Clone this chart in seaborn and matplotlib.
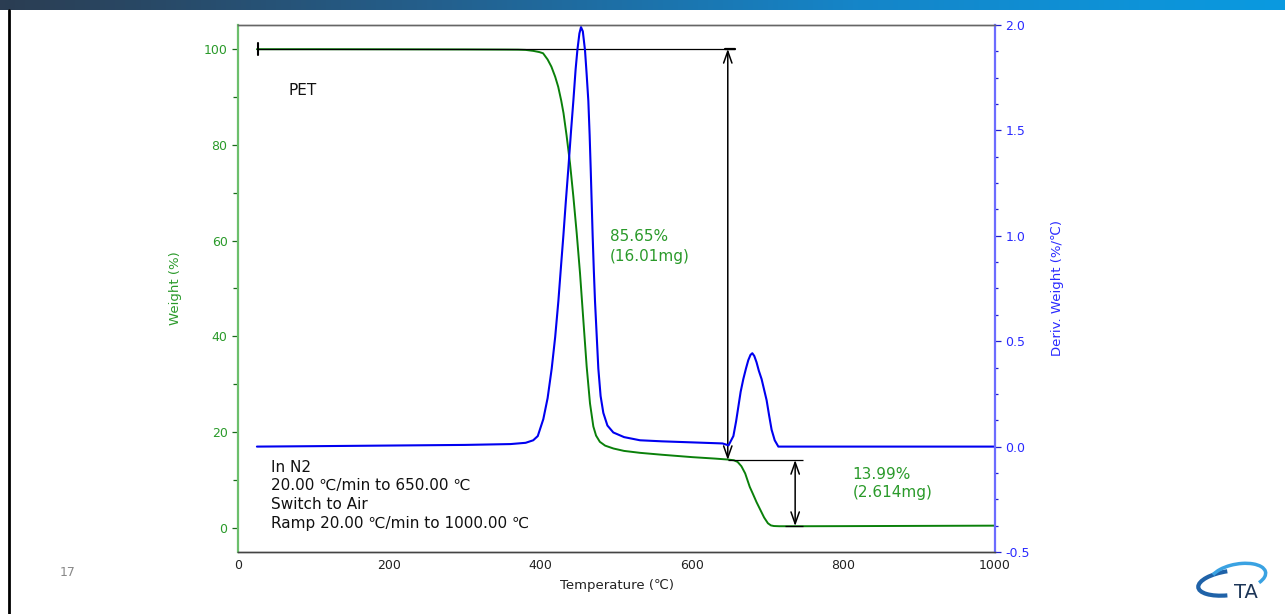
import numpy as np
import matplotlib
matplotlib.use("Agg")
import matplotlib.pyplot as plt
from matplotlib.patches import Arc
from matplotlib.lines import Line2D
from matplotlib.colors import LinearSegmentedColormap
from matplotlib.ticker import MultipleLocator, FormatStrFormatter
import seaborn as sns

# ---------------- data ----------------
temp_w = [25, 100, 200, 300, 350, 370, 380, 390, 398, 403, 409, 414, 419, 423, 427,
          430, 434, 438.6, 443, 447.4, 451.8, 456.2, 460.6, 465, 469.4, 473, 478, 485,
          496, 510, 531, 560, 600, 630, 647, 655, 660, 665, 670, 676, 680, 685, 690,
          695, 700, 704, 708, 715, 750, 800, 900, 1000]
weight = [99.95, 99.95, 99.93, 99.9, 99.87, 99.85, 99.8, 99.6, 99.35, 99.1, 97.8, 96.3,
          94.2, 92.1, 89.2, 86.6, 82.0, 76.1, 69.2, 61.6, 53.2, 43.4, 33.7, 26.0, 21.2,
          19.3, 18.0, 17.2, 16.6, 16.1, 15.7, 15.3, 14.8, 14.5, 14.3, 14.15, 13.8, 12.9,
          11.4, 8.6, 7.2, 5.4, 3.8, 2.2, 1.0, 0.55, 0.42, 0.38, 0.38, 0.4, 0.45, 0.5]

temp_d = [25, 100, 200, 300, 360, 380, 390, 396, 403.3, 409, 414.4, 419, 423.2, 427,
          429.8, 433, 436.4, 440, 443, 446, 448.3, 451, 453.1, 455.5, 458.4, 460.5,
          462.8, 464.5, 465.9, 467.2, 468.5, 470, 471.6, 473.8, 476, 479, 482.6, 488,
          495.8, 510, 531, 560, 600, 640, 648, 654.4, 658, 661, 664, 667.5, 671, 674.1,
          677, 679.4, 682, 685, 688, 691.7, 695, 698.3, 701.5, 704.9, 709, 713.8, 750,
          850, 1000]
deriv = [0.0, 0.002, 0.005, 0.008, 0.012, 0.018, 0.03, 0.05, 0.13, 0.23, 0.37, 0.52,
         0.69, 0.87, 1.0, 1.16, 1.32, 1.50, 1.64, 1.79, 1.88, 1.96, 1.99, 1.97, 1.88,
         1.77, 1.64, 1.48, 1.32, 1.16, 1.0, 0.84, 0.69, 0.53, 0.37, 0.24, 0.16, 0.1,
         0.067, 0.045, 0.03, 0.025, 0.02, 0.015, 0.006, 0.05, 0.12, 0.19, 0.26, 0.32,
         0.37, 0.41, 0.435, 0.443, 0.43, 0.40, 0.36, 0.32, 0.27, 0.22, 0.15, 0.08, 0.03,
         0.0, 0.0, 0.0, 0.0]

step1_text = "85.65%\n(16.01mg)"
step2_text = "13.99%\n(2.614mg)"
sample_text = "PET"
method_text = "In N2\n20.00 ℃/min to 650.00 ℃\nSwitch to Air\nRamp 20.00 ℃/min to 1000.00 ℃"

# ---------------- style ----------------
sns.set_style("white")
plt.rcParams['font.family'] = ['DejaVu Sans']

GREEN = "#0a800a"
GREEN_TXT = "#2a9a2a"
BLUE = "#0000f0"
BLUE_TXT = "#2a2aff"

W, H = 1285, 614
fig = plt.figure(figsize=(W / 100, H / 100), dpi=100)

ax = fig.add_axes([238 / W, 1 - 552 / H, (995 - 238) / W, (552 - 25) / H])
ax2 = ax.twinx()

sns.lineplot(x=temp_w, y=weight, ax=ax, color=GREEN, lw=1.4, sort=False, estimator=None)
sns.lineplot(x=temp_d, y=deriv, ax=ax2, color=BLUE, lw=1.5, sort=False, estimator=None)

ax.set_xlim(0, 1000)
ax.set_ylim(-5, 105)
ax2.set_ylim(-0.5, 2.0)

ax.xaxis.set_major_locator(MultipleLocator(200))
ax.xaxis.set_minor_locator(MultipleLocator(50))
ax.yaxis.set_major_locator(MultipleLocator(20))
ax.yaxis.set_minor_locator(MultipleLocator(10))
ax2.yaxis.set_major_locator(MultipleLocator(0.5))
ax2.yaxis.set_minor_locator(MultipleLocator(0.125))
ax2.yaxis.set_major_formatter(FormatStrFormatter('%.1f'))

ax.tick_params(axis='x', which='major', direction='out', length=3, width=0.8,
               color='#333333', labelsize=9, labelcolor='#222222', pad=2)
ax.tick_params(axis='x', which='minor', direction='out', length=2, width=0.8, color='#333333')
ax.tick_params(axis='y', which='major', direction='out', length=4.5, width=0.9,
               color='#1a6a1a', labelsize=9, labelcolor=GREEN_TXT, pad=3, left=True)
ax.tick_params(axis='y', which='minor', direction='out', length=3.5, width=0.9,
               color='#1a6a1a', left=True)
ax2.tick_params(axis='y', which='major', direction='out', length=4.5, width=0.9,
                color='#2020cc', labelsize=9, labelcolor=BLUE_TXT, pad=3, right=True)
ax2.tick_params(axis='y', which='minor', direction='out', length=2.5, width=0.9,
                color='#2020cc', right=True)

for a in (ax, ax2):
    a.spines['top'].set_color('#666666')
    a.spines['bottom'].set_color('#444444')
    a.spines['top'].set_linewidth(1.0)
    a.spines['bottom'].set_linewidth(1.0)
ax.spines['right'].set_visible(False)
ax2.spines['left'].set_visible(False)
ax.spines['left'].set_color('#6cbf6c')
ax.spines['left'].set_linewidth(1.6)
ax2.spines['right'].set_color('#6c6cff')
ax2.spines['right'].set_linewidth(1.6)

ax.set_xlabel("")
ax.set_ylabel("")
ax2.set_ylabel("")
ax.text(0.5, -0.0645, "Temperature (℃)", transform=ax.transAxes, ha='center', va='center',
        fontsize=9.5, color='#222222')
ax.text((175 - 238) / 757, 0.5, "Weight (%)", transform=ax.transAxes, ha='center',
        va='center', rotation=90, fontsize=9.5, color=GREEN_TXT)
ax.text((1057 - 238) / 757, 0.5, "Deriv. Weight (%/℃)", transform=ax.transAxes,
        ha='center', va='center', rotation=90, fontsize=9.5, color=BLUE_TXT)

# ---------------- annotations ----------------
k = dict(color='black', lw=0.9, solid_capstyle='butt')
ax.plot([27, 656], [100, 100], **k)
ax.plot([27, 27], [98.7, 101.3], color='black', lw=1.5)
ax.plot([643, 656], [100, 100], color='black', lw=1.6)
arrow = dict(arrowstyle='<->,head_length=0.85,head_width=0.3', color='black', lw=1.1,
             shrinkA=0, shrinkB=0)
ax.annotate('', xy=(647, 100), xytext=(647, 14.2), arrowprops=arrow)
ax.plot([647, 747], [14.2, 14.2], **k)
ax.annotate('', xy=(736, 14.2), xytext=(736, 0.42), arrowprops=arrow)
ax.plot([722, 747], [0.42, 0.42], **k)

ax.text(67, 91.4, sample_text, fontsize=11, color='#111111', ha='left', va='center')
ax.text(491, 58.7, step1_text, fontsize=11, color=GREEN_TXT, ha='left', va='center',
        linespacing=1.4)
ax.text(812, 9.3, step2_text, fontsize=11, color=GREEN_TXT, ha='left', va='center',
        linespacing=1.3)
ax.text(43.6, 6.8, method_text, fontsize=11, color='#111111', ha='left', va='center',
        linespacing=1.33)

# ---------------- slide decorations ----------------
bar = fig.add_axes([0, 1 - 10 / H, 1, 10 / H])
cmap = LinearSegmentedColormap.from_list('bar', ['#2b3d52', '#245f8c', '#1585c8', '#0a9ae0'])
bar.imshow(np.linspace(0, 1, 256)[None, :], aspect='auto', cmap=cmap, extent=[0, 1, 0, 1])
bar.set_axis_off()

fig.add_artist(Line2D([9 / W, 9 / W], [0, 1 - 10 / H], color='black', lw=2,
                      transform=fig.transFigure))
fig.text(68 / W, 1 - 573 / H, "17", fontsize=9, color='#888888', ha='center', va='center')

logo = fig.add_axes([1190 / W, 1 - 605 / H, 80 / W, 45 / H])
logo.set_xlim(0, 80)
logo.set_ylim(0, 45)
logo.set_axis_off()
logo.add_patch(Arc((40, 22), 64, 24, angle=8, theta1=95, theta2=250, color='#1f62a8', lw=3))
logo.add_patch(Arc((48, 28), 56, 26, angle=10, theta1=-25, theta2=165, color='#3aa2e2', lw=2.5))
logo.text(56, 13, "TA", fontsize=14, color='#1c3557', ha='center', va='center')

fig.savefig("out.png", dpi=100)
